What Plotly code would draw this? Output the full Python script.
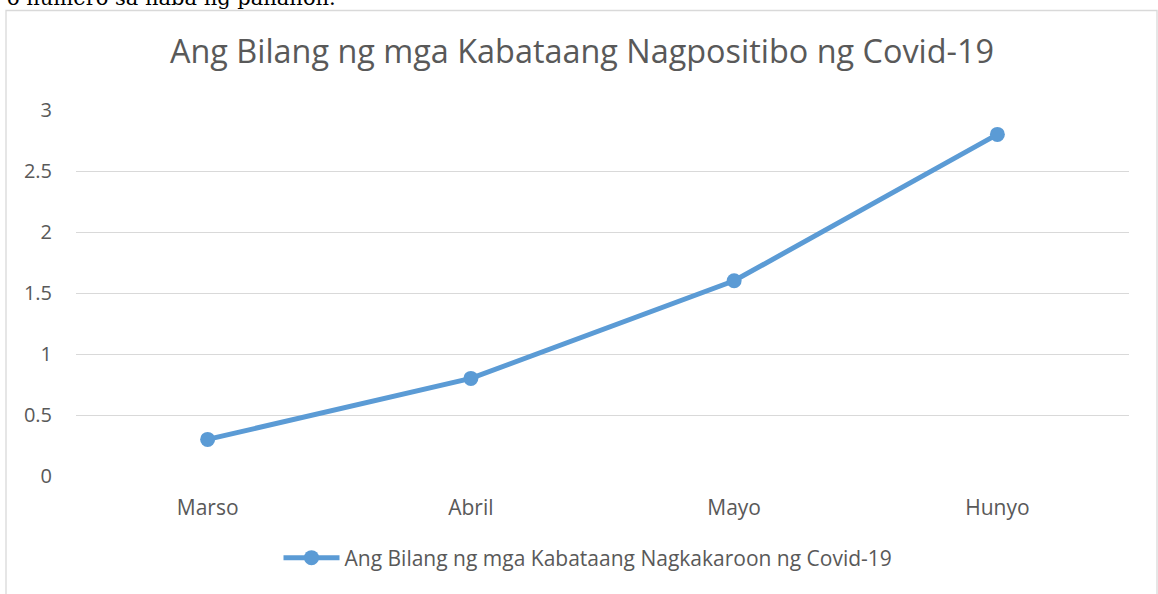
import plotly.graph_objects as go

months = ["Marso", "Abril", "Mayo", "Hunyo"]
values = [0.3, 0.8, 1.6, 2.8]
y_ticks = [0, 0.5, 1, 1.5, 2, 2.5, 3]
y_tick_labels = ["0", "0.5", "1", "1.5", "2", "2.5", "3"]
series_name = "Ang Bilang ng mga Kabataang Nagkakaroon ng Covid-19"
title_text = "Ang Bilang ng mga Kabataang Nagpositibo ng Covid-19"
top_text = "o numero sa haba ng panahon."

W, H = 1158, 594
ml, mr, mt, mb = 76, 29, 110, 118
pw, ph = W - ml - mr, H - mt - mb

def px_x(p):
    return (p - ml) / pw

def px_y(p):
    return (H - mb - p) / ph

FONT = "Open Sans"
GREY = "#595959"
BLUE = "#5b9bd5"

fig = go.Figure()
fig.add_trace(go.Scatter(
    x=months, y=values, name=series_name, mode="lines+markers",
    line=dict(color=BLUE, width=5),
    marker=dict(color=BLUE, size=15),
    showlegend=True,
))

fig.update_layout(
    width=W, height=H,
    margin=dict(l=ml, r=mr, t=mt, b=mb),
    paper_bgcolor="white", plot_bgcolor="white",
    title=dict(text=title_text, x=px_x(582), xref="paper", xanchor="center",
               y=1 - 52 / H, yanchor="middle",
               font=dict(family=FONT, size=32.4, color=GREY)),
    xaxis=dict(range=[-0.5, 3.5], showgrid=False, zeroline=False, showline=False,
               ticks="", tickfont=dict(family=FONT, size=21, color=GREY), ticklabelstandoff=17),
    yaxis=dict(range=[0, 3], tickvals=y_ticks, ticktext=y_tick_labels,
               showgrid=True, gridcolor="#d9d9d9", gridwidth=1.3, zeroline=False,
               showline=False, ticks="",
               tickfont=dict(family=FONT, size=20, color=GREY), ticklabelstandoff=23),
    legend=dict(orientation="h", x=px_x(588), xanchor="center", y=px_y(558), yanchor="middle",
                font=dict(family=FONT, size=21, color=GREY), itemwidth=56,
                bgcolor="rgba(0,0,0,0)"),
    showlegend=True,
)

fig.add_shape(type="rect", xref="paper", yref="paper",
              x0=px_x(6), x1=px_x(1157), y0=px_y(650), y1=px_y(10.5),
              line=dict(color="#d9d9d9", width=1.3), fillcolor="rgba(0,0,0,0)", layer="below")

fig.add_annotation(text=top_text, xref="paper", yref="paper", x=px_x(5), xanchor="left",
                   y=px_y(-2), yanchor="middle", showarrow=False,
                   font=dict(family="DejaVu Serif", size=21, color="black"))

fig.write_html("out.html", config={"displayModeBar": False},
               post_script="document.body.style.margin='0';document.body.style.overflow='hidden';")
